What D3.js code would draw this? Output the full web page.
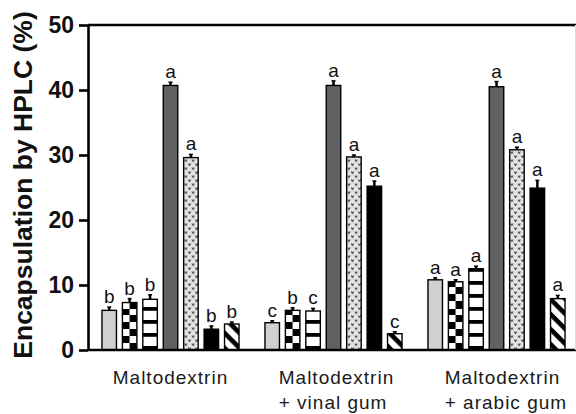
<!DOCTYPE html>
<html>
<head>
<meta charset="utf-8">
<script src="https://cdn.jsdelivr.net/npm/d3@7"></script>
<style>
  body { margin: 0; background: #fff; }
  svg { display: block; font-family: "Liberation Sans", Arial, sans-serif; }
</style>
</head>
<body>
<svg id="chart" width="576" height="414"></svg>
<script>
// data
const groupLines = [["Maltodextrin"], ["Maltodextrin", "+ vinal gum"], ["Maltodextrin", "+ arabic gum"]];
const series = ["light", "checker", "hstripe", "dark", "dotted", "black", "diagonal"];
const means = [
  [6.1, 7.3, 7.8, 40.7, 29.6, 3.2, 4.0],
  [4.2, 6.1, 6.0, 40.7, 29.7, 25.2, 2.5],
  [10.8, 10.5, 12.5, 40.5, 30.8, 24.9, 7.9]
];
const errs = [
  [0.5, 0.6, 0.7, 0.5, 0.5, 0.5, 0.3],
  [0.3, 0.4, 0.4, 0.7, 0.3, 0.8, 0.3],
  [0.3, 0.3, 0.4, 0.8, 0.4, 1.2, 0.5]
];
const letters = [
  ["b", "b", "b", "a", "a", "b", "b"],
  ["c", "b", "c", "a", "a", "a", "c"],
  ["a", "a", "a", "a", "a", "a", "a"]
];
const yTicks = [0, 10, 20, 30, 40, 50];

const width = 576, height = 414;
const marginLeft = 88, plotTop = 25, plotBottom = 350;

const svg = d3.select("#chart");
const defs = svg.append("defs");

const y = d3.scaleLinear().domain([0, 50]).range([plotBottom, plotTop]);
const x0 = d3.scaleBand().domain(d3.range(groupLines.length)).range([89, 578]);
const x1 = d3.scaleBand().domain(series).range([10, 153]).paddingInner(0.29).paddingOuter(0.145);

// flatten for drawing
const bars = [];
means.forEach((row, g) => {
  row.forEach((v, i) => {
    bars.push({ g, s: series[i], v, e: errs[g][i], l: letters[g][i], x: x0(g) + x1(series[i]) });
  });
});

// patterns, one per bar so they line up with the bar's left edge
function makePattern(d) {
  const id = `p-${d.s}-${d.g}`;
  if (d.s === "checker") {
    const p = defs.append("pattern").attr("id", id).attr("patternUnits", "userSpaceOnUse")
      .attr("x", d.x).attr("y", plotBottom).attr("width", 14.4).attr("height", 14);
    p.append("rect").attr("width", 14.4).attr("height", 14).attr("fill", "#fff");
    p.append("rect").attr("width", 7.2).attr("height", 7).attr("fill", "#000");
    p.append("rect").attr("x", 7.2).attr("y", 7).attr("width", 7.2).attr("height", 7).attr("fill", "#000");
  } else if (d.s === "hstripe") {
    const p = defs.append("pattern").attr("id", id).attr("patternUnits", "userSpaceOnUse")
      .attr("x", d.x).attr("y", plotBottom - 4).attr("width", 20).attr("height", 13);
    p.append("rect").attr("width", 20).attr("height", 13).attr("fill", "#fff");
    p.append("rect").attr("width", 20).attr("height", 3.8).attr("fill", "#000");
  } else if (d.s === "dotted") {
    const p = defs.append("pattern").attr("id", id).attr("patternUnits", "userSpaceOnUse")
      .attr("x", d.x).attr("y", plotBottom).attr("width", 7.2).attr("height", 8);
    p.append("rect").attr("width", 7.2).attr("height", 8).attr("fill", "#e2e2e2");
    p.append("path").attr("d", "M1,1.5 L2.2,3.6 L3.4,1.5 M4.6,5.5 L5.8,7.6 L7,5.5")
      .attr("fill", "none").attr("stroke", "#444").attr("stroke-width", 1);
  } else if (d.s === "diagonal") {
    const p = defs.append("pattern").attr("id", id).attr("patternUnits", "userSpaceOnUse")
      .attr("x", d.x).attr("y", plotBottom).attr("width", 10.6).attr("height", 10.6)
      .attr("patternTransform", "rotate(45)");
    p.append("rect").attr("width", 10.6).attr("height", 10.6).attr("fill", "#fff");
    p.append("rect").attr("width", 10.6).attr("height", 4.6).attr("fill", "#000");
  }
  return `url(#${id})`;
}

const solid = { light: "#d0d0d0", dark: "#616161", black: "#000" };
const fillFor = d => solid[d.s] || makePattern(d);

// error bars (upper half only)
svg.append("g").selectAll("line").data(bars).join("line")
  .attr("x1", d => d.x + x1.bandwidth() / 2).attr("x2", d => d.x + x1.bandwidth() / 2)
  .attr("y1", d => y(d.v)).attr("y2", d => y(d.v + d.e))
  .attr("stroke", "#000").attr("stroke-width", 2.5);
svg.append("g").selectAll("line").data(bars).join("line")
  .attr("x1", d => d.x + x1.bandwidth() / 2 - 2).attr("x2", d => d.x + x1.bandwidth() / 2 + 2)
  .attr("y1", d => y(d.v + d.e)).attr("y2", d => y(d.v + d.e))
  .attr("stroke", "#000").attr("stroke-width", 1.5);

// bars
svg.append("g").selectAll("rect").data(bars).join("rect")
  .attr("x", d => d.x).attr("width", x1.bandwidth())
  .attr("y", d => y(d.v)).attr("height", d => y(0) - y(d.v))
  .attr("fill", fillFor)
  .attr("stroke", "#000").attr("stroke-width", 1.4);

// significance letters
svg.append("g").selectAll("text").data(bars).join("text")
  .attr("x", d => d.x + x1.bandwidth() / 2)
  .attr("y", d => y(d.v + d.e) - 4)
  .attr("text-anchor", "middle")
  .style("font-size", "19px")
  .style("fill", "#111")
  .text(d => d.l);

// y axis
const yAxis = d3.axisLeft(y).tickValues(yTicks).tickSize(9).tickSizeOuter(0).tickPadding(5);
const ga = svg.append("g").attr("transform", `translate(${marginLeft},0)`).call(yAxis);
ga.attr("font-family", null);
ga.select(".domain").attr("stroke-width", 2.6);
ga.selectAll(".tick line").attr("stroke-width", 2.6);
ga.selectAll(".tick text")
  .style("font-size", "23px").style("font-weight", "bold").attr("fill", "#111");

// top and bottom frame lines
svg.append("line").attr("x1", marginLeft).attr("x2", width).attr("y1", y(50)).attr("y2", y(50))
  .attr("stroke", "#000").attr("stroke-width", 2.6);
svg.append("line").attr("x1", marginLeft).attr("x2", width).attr("y1", y(0)).attr("y2", y(0))
  .attr("stroke", "#000").attr("stroke-width", 2.6);
svg.append("line").attr("x1", width - 0.5).attr("x2", width - 0.5).attr("y1", y(50)).attr("y2", y(0))
  .attr("stroke", "#ddd").attr("stroke-width", 1);

// y label
svg.append("text")
  .attr("transform", `translate(32,${185}) rotate(-90)`)
  .attr("text-anchor", "middle")
  .style("font-size", "26.5px").style("font-weight", "bold").style("fill", "#111")
  .text("Encapsulation by HPLC (%)");

// group labels: first line centred, second line starts at the same x
groupLines.forEach((lines, g) => {
  const cx = x0(g) + x0.bandwidth() / 2 + (g === 0 ? 0 : 3 * g);
  const t = svg.append("text")
    .style("font-size", "19px").style("letter-spacing", "1px").style("fill", "#1a1a1a")
    .attr("y", 384);
  t.append("tspan").text(lines[0]);
  const w = t.node().getComputedTextLength();
  const sx = cx - w / 2;
  t.attr("x", sx);
  t.select("tspan").attr("x", sx);
  if (lines[1]) t.append("tspan").attr("x", sx).attr("dy", 25).text(lines[1]);
});
</script>
</body>
</html>
